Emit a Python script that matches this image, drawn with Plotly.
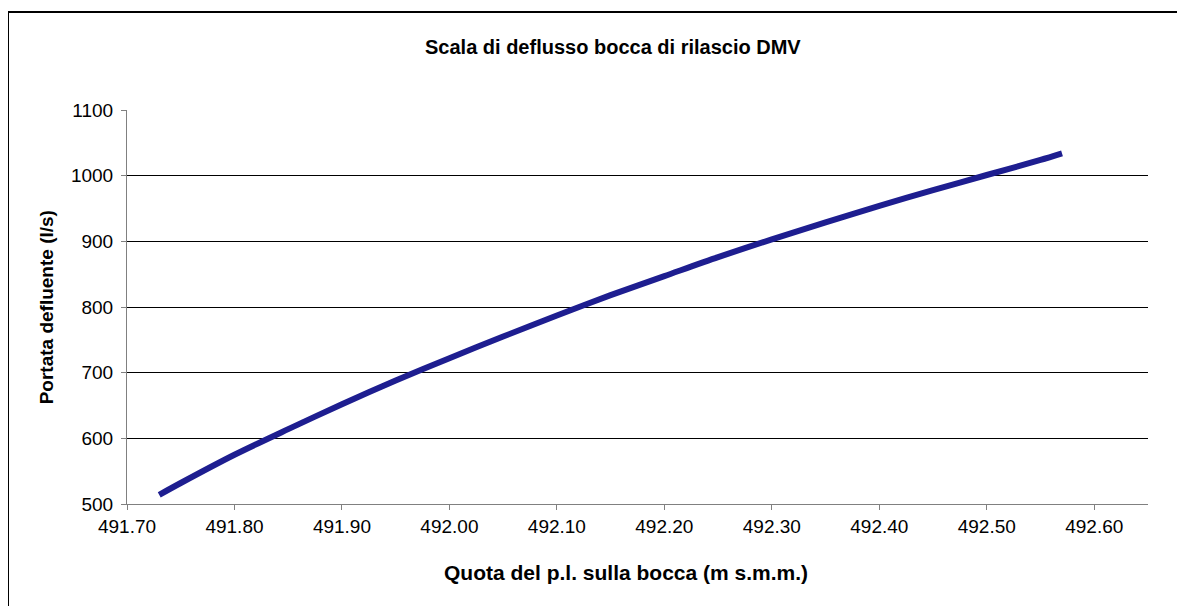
import plotly.graph_objects as go

quota = [491.73, 491.75, 491.80, 491.85, 491.90, 491.95, 492.00, 492.05, 492.10,
         492.15, 492.20, 492.25, 492.30, 492.35, 492.40, 492.45, 492.50, 492.55, 492.57]
portata = [514, 532, 575, 614, 652, 688, 722, 755, 787,
           818, 847, 876, 903, 929, 954, 978, 1001, 1024, 1034]

x_ticks = [491.70, 491.80, 491.90, 492.00, 492.10, 492.20, 492.30, 492.40, 492.50, 492.60]
x_ticklabels = ["%.2f" % v for v in x_ticks]
y_ticks = [500, 600, 700, 800, 900, 1000, 1100]

title_text = "Scala di deflusso bocca di rilascio DMV"
x_title = "Quota del p.l. sulla bocca (m s.m.m.)"
y_title = "Portata defluente (l/s)"

FONT = "Liberation Sans, Arial, sans-serif"

fig = go.Figure()
fig.add_trace(go.Scatter(x=quota, y=portata, mode="lines",
                         line=dict(color="#1e1e90", width=6, shape="spline", smoothing=0.8),
                         showlegend=False, hoverinfo="skip"))

fig.update_layout(
    width=1185, height=606,
    margin=dict(l=119, r=45, t=102, b=110),
    paper_bgcolor="white", plot_bgcolor="white",
    font=dict(family=FONT, size=19, color="black"),
    showlegend=False,
)
fig.update_xaxes(range=[491.70, 492.65], tickvals=x_ticks, ticktext=x_ticklabels,
                 showgrid=False, zeroline=False, showline=True, linecolor="#808080", linewidth=1,
                 ticks="outside", ticklen=5, tickcolor="#808080", tickfont=dict(size=19))
fig.update_yaxes(range=[500, 1100], tickvals=y_ticks,
                 showgrid=True, gridcolor="#000000", gridwidth=1, zeroline=False,
                 showline=True, linecolor="#808080", linewidth=1,
                 ticks="outside", ticklen=5, tickcolor="#808080", tickfont=dict(size=19),
                 ticklabelstandoff=4)

fig.add_annotation(text="<b>%s</b>" % title_text, xref="paper", yref="paper",
                   x=0.476, y=1.16, showarrow=False, font=dict(size=20, family=FONT),
                   xanchor="center", yanchor="middle")
fig.add_annotation(text="<b>%s</b>" % x_title, xref="paper", yref="paper",
                   x=0.489, y=-0.173, showarrow=False, font=dict(size=21, family=FONT),
                   xanchor="center", yanchor="middle")
fig.add_annotation(text="<b>%s</b>" % y_title, xref="paper", yref="paper",
                   x=-0.079, y=0.5, showarrow=False, textangle=-90, font=dict(size=19, family=FONT),
                   xanchor="center", yanchor="middle")

# outer chart-area border
fig.add_shape(type="rect", xref="paper", yref="paper",
              x0=(0 - 119) / 1021, x1=1.06, y0=-0.28, y1=(496 - 4) / 394,
              line=dict(color="black", width=2), fillcolor="rgba(0,0,0,0)", layer="below")

fig.write_html("out.html")
